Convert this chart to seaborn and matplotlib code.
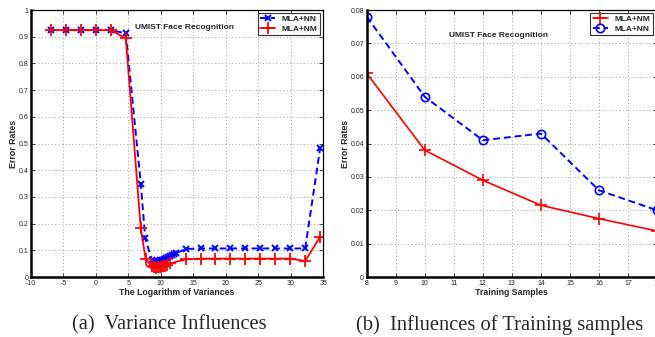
import numpy as np
import pandas as pd
import matplotlib
matplotlib.use("Agg")
import matplotlib.pyplot as plt
import seaborn as sns
from matplotlib.ticker import FuncFormatter, MultipleLocator

# ---------------- data: (a) Variance Influences ----------------
var_x_nn = [-6.91, -4.61, -2.30, 0.0, 2.30, 4.61, 6.91, 7.6,
            8.6, 9.0, 9.3, 9.6, 9.9, 10.2, 10.5, 10.8, 11.1, 11.4, 11.7, 12.0, 12.4,
            13.82, 16.12, 18.42, 20.72, 23.03, 25.33, 27.63, 29.93, 32.24, 34.54]
var_y_nn = [0.925, 0.925, 0.925, 0.925, 0.925, 0.913, 0.35, 0.145,
            0.065, 0.060, 0.058, 0.060, 0.062, 0.065, 0.068, 0.072, 0.076, 0.080, 0.084, 0.087, 0.090,
            0.105, 0.107, 0.107, 0.107, 0.107, 0.107, 0.107, 0.107, 0.107, 0.482]
var_x_nm = [-6.91, -4.61, -2.30, 0.0, 2.30, 4.61, 6.91, 7.67,
            8.6, 8.9, 9.2, 9.5, 9.8, 10.1, 10.4, 10.7, 11.0, 11.4,
            13.82, 16.12, 18.42, 20.72, 23.03, 25.33, 27.63, 29.93, 32.24, 34.54]
var_y_nm = [0.925, 0.925, 0.925, 0.925, 0.925, 0.894, 0.182, 0.066,
            0.041, 0.037, 0.035, 0.036, 0.037, 0.038, 0.040, 0.042, 0.045, 0.051,
            0.066, 0.069, 0.069, 0.069, 0.069, 0.069, 0.069, 0.069, 0.060, 0.151]

# ---------------- data: (b) Influences of Training samples ----------------
train_x = [8, 10, 12, 14, 16, 18]
train_nm = [0.061, 0.038, 0.029, 0.0215, 0.0175, 0.0138]
train_nn = [0.078, 0.054, 0.041, 0.043, 0.026, 0.020]

title_text = "UMIST Face Recognition"
captions = ["(a)  Variance Influences", "(b)  Influences of Training samples"]

sns.set_style("white")
plt.rcParams["font.family"] = ["Liberation Sans", "DejaVu Sans"]

fig = plt.figure(figsize=(6.55, 3.37), dpi=100)
ax1 = fig.add_axes([0.0473, 0.178, 0.446, 0.792])
ax2 = fig.add_axes([0.560, 0.178, 0.443, 0.792])

fmt = FuncFormatter(lambda v, p: "%g" % round(v, 6))

def style_axes(ax):
    ax.grid(True, linestyle=(0, (1, 2.5)), color="#9a9a9a", linewidth=0.7)
    ax.tick_params(direction="in", length=3, width=0.6, labelsize=5, pad=2,
                   top=True, right=True, bottom=True, left=True,
                   labelcolor="#222222")
    for s in ["left", "bottom"]:
        ax.spines[s].set_linewidth(1.8)
        ax.spines[s].set_color("black")
    for s in ["top", "right"]:
        ax.spines[s].set_linewidth(0.9)
        ax.spines[s].set_color("black")
    ax.yaxis.set_major_formatter(fmt)
    ax.xaxis.set_major_formatter(fmt)

# ---- panel (a)
sns.lineplot(x=var_x_nn, y=var_y_nn, ax=ax1, color="blue", marker="x",
             markersize=5, markeredgewidth=1.4, markeredgecolor="blue", linewidth=1.4,
             linestyle=(0, (3.5, 2)), label="MLA+NN", sort=False)
sns.lineplot(x=var_x_nm, y=var_y_nm, ax=ax1, color="red", marker="+",
             markersize=8, markeredgewidth=1.3, markeredgecolor="red", linewidth=1.3,
             label="MLA+NM", sort=False)
ax1.set_xlim(-10, 35)
ax1.set_ylim(0, 1)
ax1.xaxis.set_major_locator(MultipleLocator(5))
ax1.yaxis.set_major_locator(MultipleLocator(0.1))
style_axes(ax1)
ax1.set_xlabel("The Logarithm of Variances", fontsize=6.3, fontweight="bold", labelpad=1)
ax1.set_ylabel("Error Rates", fontsize=6.3, fontweight="bold", labelpad=0.5)
ax1.text(13.7, 0.936, title_text, fontsize=6, fontweight="bold", ha="center", va="center")
leg1 = ax1.legend(loc="upper right", fancybox=False,
                  edgecolor="black", borderpad=0.3, handlelength=1.8,
                  labelspacing=0.2, borderaxespad=0.35, prop={"weight": "bold", "size": 6})
leg1.get_frame().set_linewidth(0.8)

# ---- panel (b)
sns.lineplot(x=train_x, y=train_nm, ax=ax2, color="red", marker="+",
             markersize=8, markeredgewidth=1.2, markeredgecolor="red",
             linewidth=1.2, label="MLA+NM")
sns.lineplot(x=train_x, y=train_nn, ax=ax2, color="blue", marker="o",
             markersize=6, markerfacecolor="none", markeredgecolor="blue",
             markeredgewidth=1.2, linewidth=1.4, linestyle=(0, (3.5, 2)),
             label="MLA+NN")
ax2.set_xlim(8, 18)
ax2.set_ylim(0, 0.08)
ax2.xaxis.set_major_locator(MultipleLocator(1))
ax2.yaxis.set_major_locator(MultipleLocator(0.01))
style_axes(ax2)
ax2.set_xlabel("Training Samples", fontsize=6.3, fontweight="bold", labelpad=1)
ax2.set_ylabel("Error Rates", fontsize=6.3, fontweight="bold", labelpad=0.5)
ax2.text(12.55, 0.0725, title_text, fontsize=6, fontweight="bold", ha="center", va="center")
leg2 = ax2.legend(loc="upper right", fancybox=False, edgecolor="black", borderpad=0.3,
                  handlelength=1.8, labelspacing=0.2, borderaxespad=0.35,
                  bbox_to_anchor=(0.995, 1.0), prop={"weight": "bold", "size": 6})
leg2.get_frame().set_linewidth(0.8)

fig.text(0.258, 0.036, captions[0], fontsize=14.8, family=["Liberation Serif"],
         ha="center", va="center")
fig.text(0.763, 0.036, captions[1], fontsize=14.8, family=["Liberation Serif"],
         ha="center", va="center")

fig.savefig("out.png", dpi=100)
